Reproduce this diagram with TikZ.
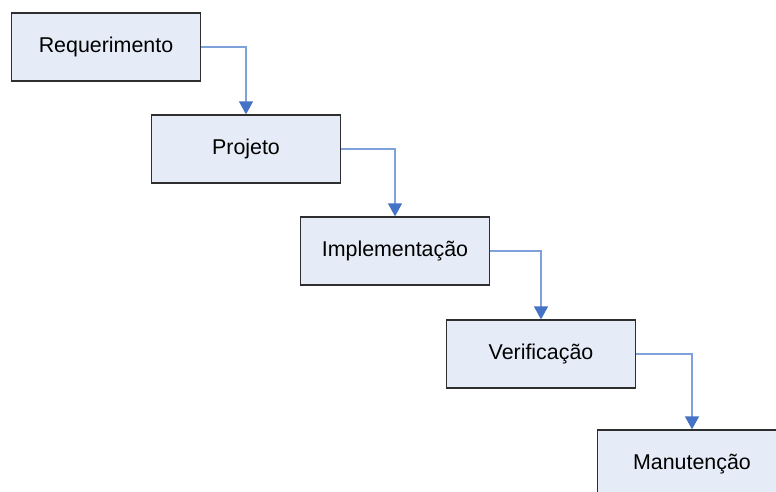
\documentclass[tikz,border=0pt]{standalone}
\usepackage{fontspec}
\setmainfont{Liberation Sans}
\usetikzlibrary{arrows.meta}
\definecolor{boxfill}{HTML}{E6ECF7}
\definecolor{boxline}{HTML}{2E2E2E}
\definecolor{connline}{HTML}{7FA2DA}
\definecolor{connhead}{HTML}{4472C4}
\tikzset{
  phase/.style={draw=boxline, fill=boxfill, line width=1.3pt,
    minimum width=189pt, minimum height=68pt, inner sep=0pt,
    font=\fontsize{21.4}{25}\selectfont},
  conn/.style={draw=connline, line width=1.4pt,
    -{Triangle[width=14pt,length=13pt,fill=connhead,color=connhead]}}
}
\begin{document}
\begin{tikzpicture}[x=1pt,y=-1pt]
  \useasboundingbox (0,0) rectangle (776,491);
  \clip (0,0) rectangle (776,491);
  \fill[white] (0,0) rectangle (776,491);
  \node[phase] (req)  at (106,47)  {Requerimento};
  \node[phase] (proj) at (246,149) {Projeto};
  \node[phase] (impl) at (395,251) {Implementação};
  \node[phase] (ver)  at (541,354) {Verificação};
  \node[phase] (man)  at (692,464) {Manutenção};
  \draw[conn] (req.east)  -| (proj.north);
  \draw[conn] (proj.east) -| (impl.north);
  \draw[conn] (impl.east) -| (ver.north);
  \draw[conn] (ver.east)  -| (man.north);
\end{tikzpicture}
\end{document}
